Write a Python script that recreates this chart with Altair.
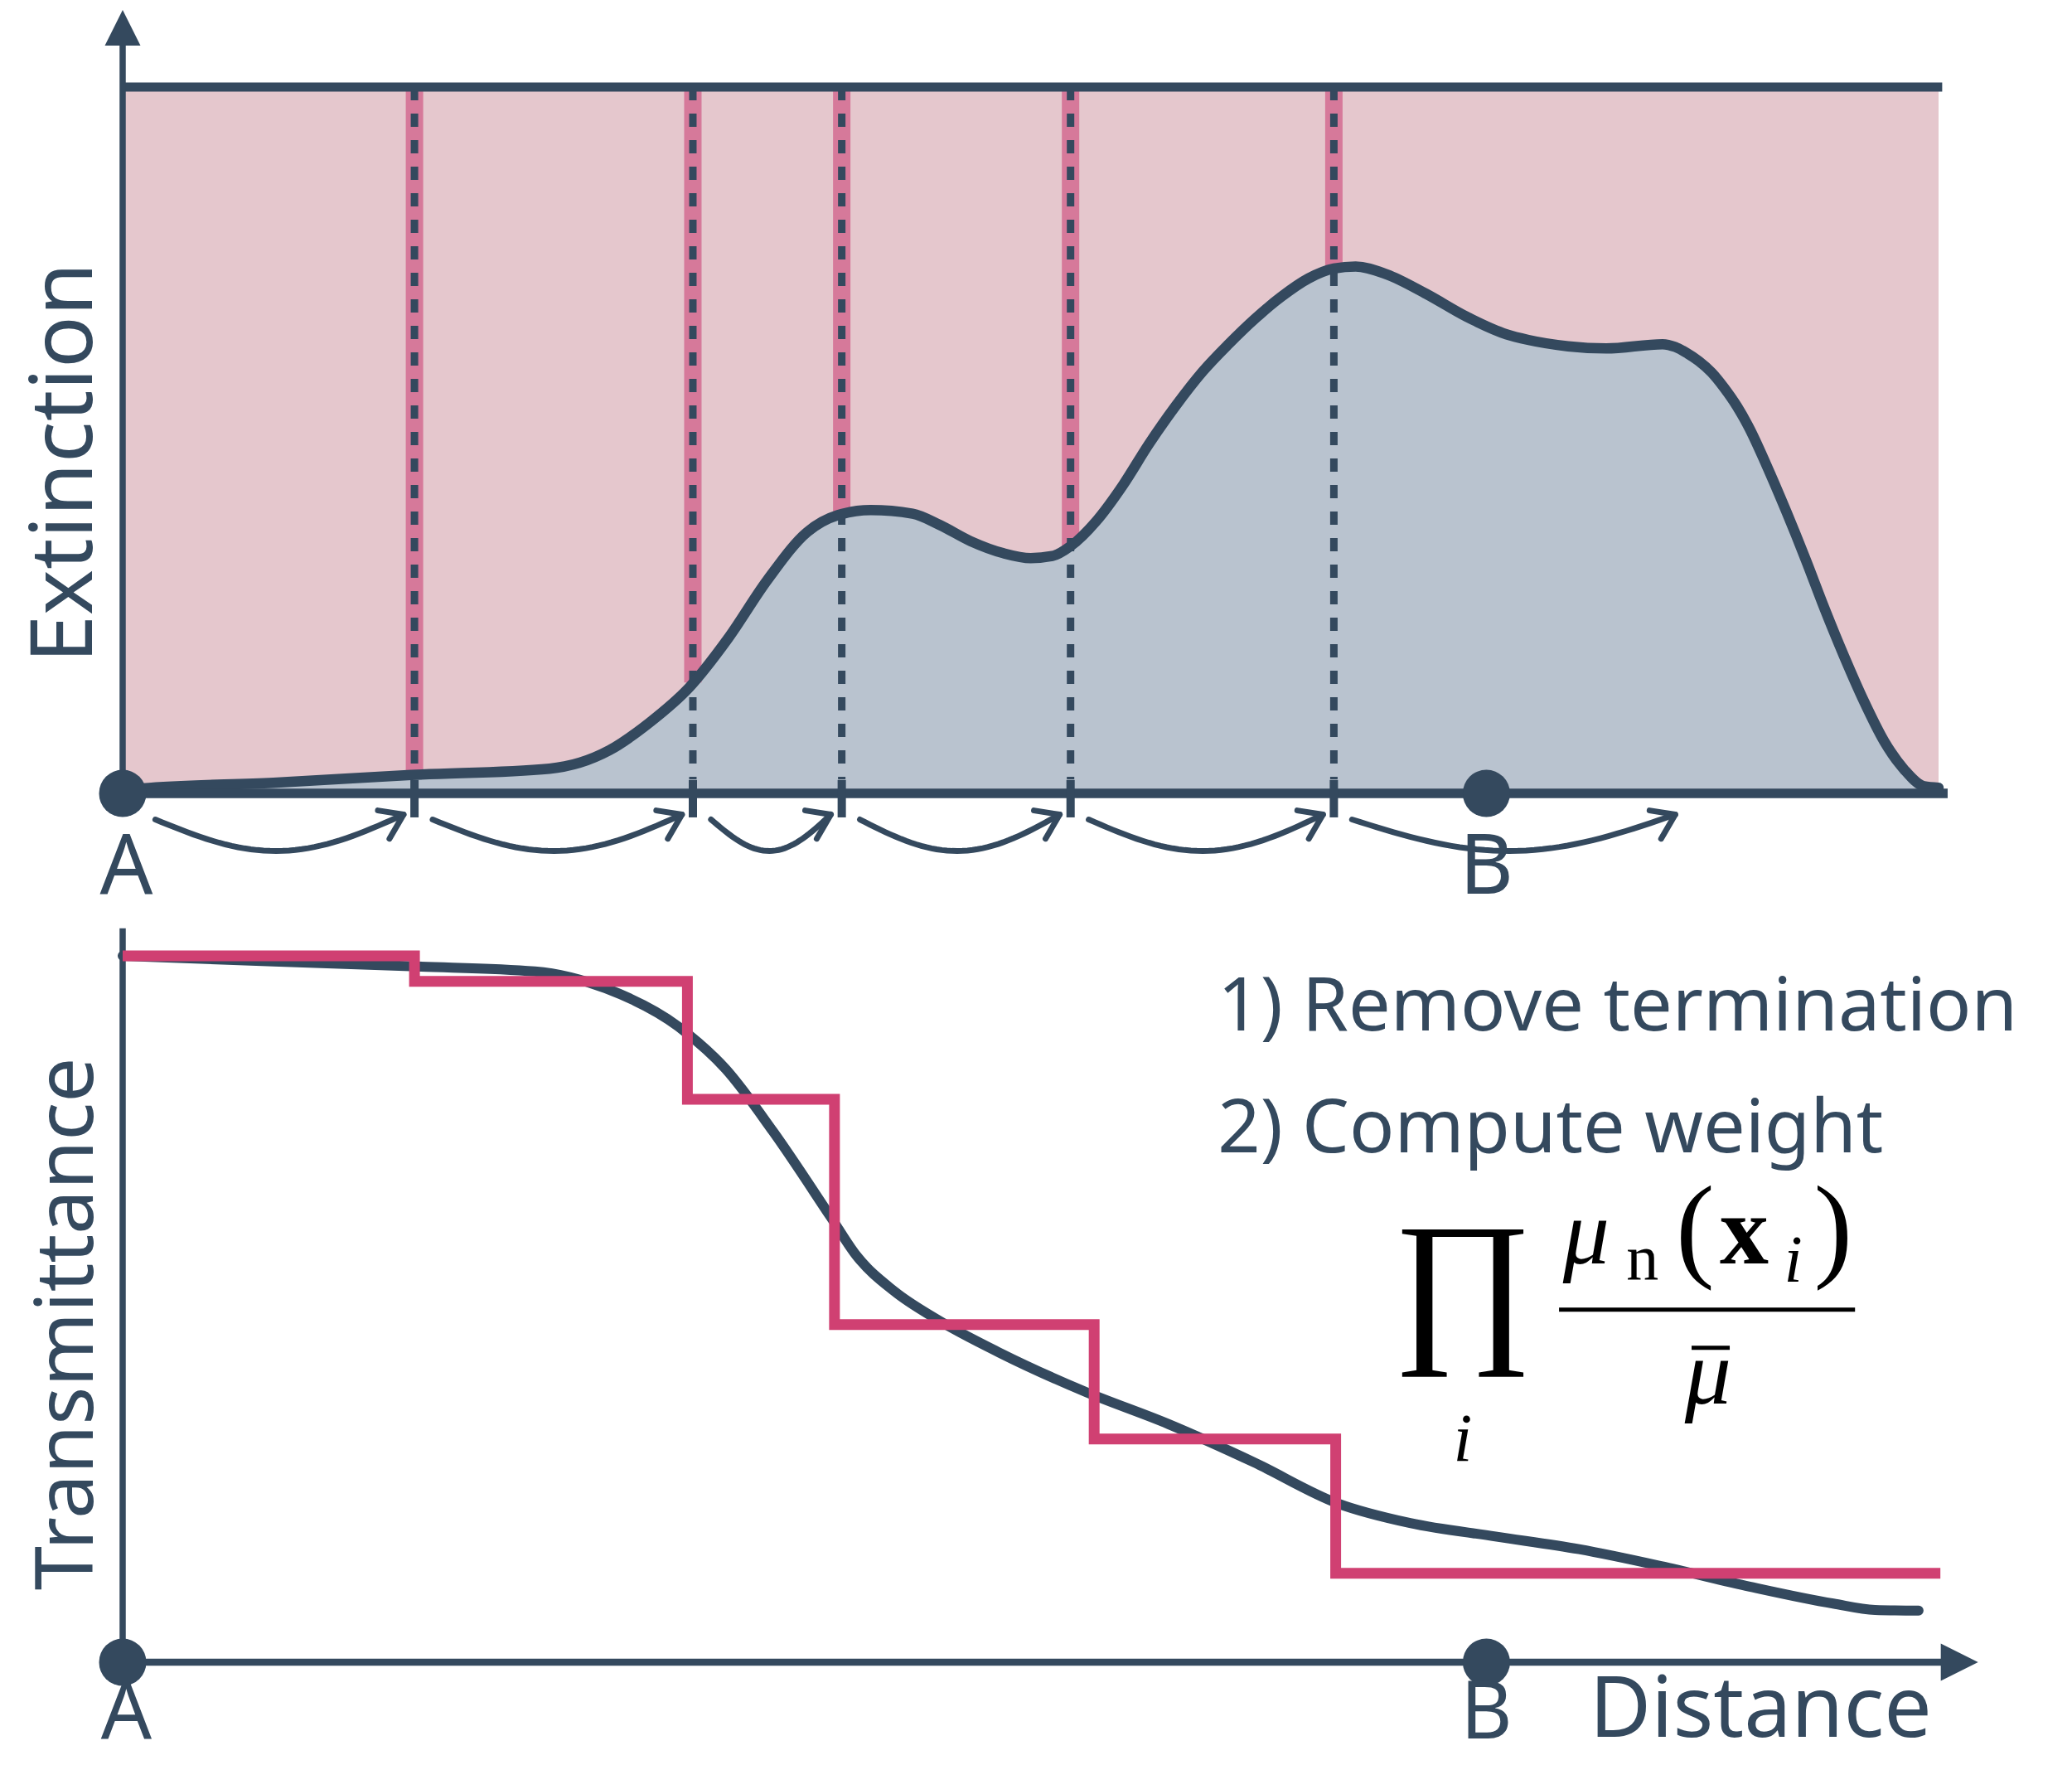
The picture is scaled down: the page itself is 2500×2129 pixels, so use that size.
import altair as alt
import numpy as np
import pandas as pd

# ---------------------------------------------------------------- palette
DARK = "#34495e"
MAJORANT_FILL = "#e5c7cd"
MEDIUM_FILL = "#b9c3cf"
SAMPLE_BAND = "#d6799a"
WEIGHT_RED = "#d04072"
TEXT_FONT = "Noto Sans"
MATH_FONT = "Liberation Serif"

# ---------------------------------------------------------------- data
# distance along the ray: A = 0, end of drawn segment = 100
POINT_A = 0.0
POINT_B = 75.1
RAY_END = 100.0
MAJORANT = 1.0

# extinction profile mu(x)
ext_dist = [0, 1.1, 8.3, 15.9, 23.5, 26.8, 29.0, 31.2, 33.3, 35.5, 37.7, 39.4,
            41.2, 43.5, 45.0, 46.7, 48.5, 50.0, 51.2, 52.2, 53.6, 55.1, 56.5,
            58.0, 59.5, 60.9, 62.4, 63.8, 65.3, 66.7, 67.9, 69.6, 71.8, 74.0,
            76.2, 77.4, 79.6, 81.7, 84.8, 85.5, 86.1, 86.8, 87.5, 88.2, 88.9,
            89.6, 90.5, 91.6, 92.7, 93.7, 94.8, 95.9, 97.0, 98.1, 99.2, 100.0]
ext_val = [0.004, 0.007, 0.015, 0.026, 0.035, 0.061, 0.100, 0.150, 0.218,
           0.302, 0.370, 0.394, 0.401, 0.396, 0.380, 0.357, 0.340, 0.333,
           0.336, 0.350, 0.385, 0.437, 0.494, 0.549, 0.598, 0.636, 0.673,
           0.703, 0.729, 0.743, 0.746, 0.735, 0.707, 0.675, 0.650, 0.642,
           0.633, 0.630, 0.636, 0.632, 0.624, 0.612, 0.596, 0.574, 0.548,
           0.516, 0.466, 0.400, 0.330, 0.263, 0.194, 0.130, 0.074, 0.034,
           0.010, 0.008]

# tentative collision distances (the last one lies past B)
sample_dist = [16.07, 31.4, 39.6, 52.2, 66.7, 86.1]
# extinction at the collisions that fall before B
sample_ext = [0.026, 0.157, 0.394, 0.350, 0.743]

# true transmittance T(x)
tr_dist = [0, 8.3, 16.2, 22.7, 26.6, 30.6, 33.2, 35.8, 39.0, 40.4, 42.5, 44.8,
           48.3, 52.9, 57.6, 62.3, 66.9, 70.9, 75.6, 80.2, 84.9, 89.6, 94.2,
           96.5, 98.9]
tr_val = [1.0, 0.992, 0.985, 0.978, 0.954, 0.900, 0.840, 0.752, 0.630, 0.576,
          0.525, 0.486, 0.438, 0.384, 0.337, 0.283, 0.225, 0.197, 0.178, 0.160,
          0.135, 0.107, 0.083, 0.074, 0.073]

# ratio-tracking weight, piecewise constant between collisions
weight_dist = [0.0, 16.07, 31.1, 39.2, 53.5, 66.8, 100.1]
weight_val = [1.0, 0.964, 0.797, 0.478, 0.316, 0.126, 0.126]

# ---------------------------------------------------------------- tables
ext_df = pd.DataFrame({"dist": ext_dist, "mu": ext_val})
tr_df = pd.DataFrame({"dist": tr_dist, "T": tr_val})
weight_df = pd.DataFrame({"dist": weight_dist, "w": weight_val})
band_df = pd.DataFrame({"dist": sample_dist[:len(sample_ext)], "mu": sample_ext})
ends_df = pd.DataFrame({"dist": [POINT_A, POINT_B]})

# free-flight hops drawn as sagging arcs under the axis
ARC_START, ARC_END, ARC_SAG = -0.037, -0.030, 0.048
stops = [POINT_A] + sample_dist
arc_rows, head_rows = [], []
for i in range(len(stops) - 1):
    a = stops[i] + (1.8 if i == 0 else 1.0)
    b = stops[i + 1] - 0.6
    for t in np.linspace(0.0, 1.0, 40):
        arc_rows.append({"hop": i, "dist": float(a + (b - a) * t),
                         "lvl": float(ARC_START + (ARC_END - ARC_START) * t
                                      - ARC_SAG * np.sin(np.pi * t))})
    head_rows.append({"dist": b, "lvl": ARC_END})
arc_df = pd.DataFrame(arc_rows)
head_df = pd.DataFrame(head_rows)

# ---------------------------------------------------------------- scales
X_SCALE = alt.Scale(domain=[0, 100], range=[148, 2339], nice=False, zero=False)
EXT_SCALE = alt.Scale(domain=[0, 1], range=[957, 105], nice=False, zero=False)
TR_SCALE = alt.Scale(domain=[0, 1], range=[2005, 1153], nice=False, zero=False)


def xf(field):
    return alt.X(field, type="quantitative", scale=X_SCALE, axis=None)


def yf(field, scale):
    return alt.Y(field, type="quantitative", scale=scale, axis=None)


def anchor(**values):
    """One-row source whose fields are the given constants."""
    base = alt.Chart(alt.Data(values=[{"k": 0}]))
    return base.transform_calculate(**{k: repr(float(v)) for k, v in values.items()})


def label(text, x, y, scale, size, font=TEXT_FONT, color=DARK, style="normal",
          weight="normal", align="center", baseline="alphabetic", angle=0):
    return anchor(px=x, py=y).mark_text(
        text=text, font=font, fontSize=size, fontStyle=style, fontWeight=weight,
        color=color, align=align, baseline=baseline, angle=angle
    ).encode(x=xf("px:Q"), y=yf("py:Q", scale))


def hrule(x0, x1, y, scale, width, color=DARK):
    return anchor(px=x0, px2=x1, py=y).mark_rule(
        color=color, strokeWidth=width
    ).encode(x=xf("px:Q"), x2="px2:Q", y=yf("py:Q", scale))


def vrule(x, y0, y1, scale, width, color=DARK):
    return anchor(px=x, py=y0, py2=y1).mark_rule(
        color=color, strokeWidth=width
    ).encode(x=xf("px:Q"), y=yf("py:Q", scale), y2="py2:Q")


def head(shape, x, y, scale, size):
    return anchor(px=x, py=y).mark_point(
        shape=shape, size=size, filled=True, color=DARK, opacity=1
    ).encode(x=xf("px:Q"), y=yf("py:Q", scale))


UP_HEAD = "M-1,1L0,-1L1,1Z"
RIGHT_HEAD = "M-1,-1L1,0L-1,1Z"
HOP_HEAD = "M-1,-0.16L0,0L-0.55,0.94"

# ---------------------------------------------------------------- extinction panel
majorant_bg = anchor(px=POINT_A, px2=RAY_END, py=0, py2=MAJORANT).mark_rect(
    color=MAJORANT_FILL
).encode(x=xf("px:Q"), x2="px2:Q", y=yf("py:Q", EXT_SCALE), y2="py2:Q")

ext_area = alt.Chart(ext_df).transform_calculate(floor="0").mark_area(
    color=MEDIUM_FILL, interpolate="monotone", opacity=1
).encode(x=xf("dist"), y=yf("mu", EXT_SCALE), y2="floor:Q")

bands = alt.Chart(band_df).transform_calculate(top=repr(MAJORANT)).mark_rule(
    color=SAMPLE_BAND, strokeWidth=21
).encode(x=xf("dist"), y=yf("top:Q", EXT_SCALE), y2="mu:Q")

dashes = alt.Chart(band_df).transform_calculate(
    top=repr(MAJORANT), foot="0.02"
).mark_rule(color=DARK, strokeWidth=9, strokeDash=[16, 16]).encode(
    x=xf("dist"), y=yf("top:Q", EXT_SCALE), y2="foot:Q")

ext_line = alt.Chart(ext_df).mark_line(
    color=DARK, strokeWidth=12.5, interpolate="monotone", strokeCap="round"
).encode(x=xf("dist"), y=yf("mu", EXT_SCALE))

top_border = hrule(POINT_A, 100.2, MAJORANT, EXT_SCALE, 11)
ext_base = hrule(POINT_A, 100.5, 0, EXT_SCALE, 11.5)
ext_left = vrule(POINT_A, 0, 1.06, EXT_SCALE, 7.5)
ext_arrow = head(UP_HEAD, POINT_A, 1.084, EXT_SCALE, 1850)

ticks = alt.Chart(band_df).transform_calculate(
    up="0.019", down="-0.034"
).mark_rule(color=DARK, strokeWidth=10).encode(
    x=xf("dist"), y=yf("up:Q", EXT_SCALE), y2="down:Q")

ext_ends = alt.Chart(ends_df).transform_calculate(level="0").mark_circle(
    size=3250, color=DARK, opacity=1
).encode(x=xf("dist"), y=yf("level:Q", EXT_SCALE))

hops = alt.Chart(arc_df).mark_line(
    color=DARK, strokeWidth=7, strokeCap="round"
).encode(x=xf("dist"), y=yf("lvl", EXT_SCALE), detail="hop:N")

hop_heads = alt.Chart(head_df).mark_point(
    shape=HOP_HEAD, size=3844, filled=False, color=DARK, strokeWidth=7,
    opacity=1, strokeJoin="round", strokeCap="round"
).encode(x=xf("dist"), y=yf("lvl", EXT_SCALE))

ext_labels = [
    label("A", POINT_A + 0.2, -0.142, EXT_SCALE, 100),
    label("B", POINT_B, -0.142, EXT_SCALE, 100),
    label("Extinction", -3.1, 0.468, EXT_SCALE, 104, angle=270,
          baseline="middle"),
]

# ---------------------------------------------------------------- transmittance panel
tr_left = vrule(POINT_A, 0, 1.039, TR_SCALE, 7.5)
tr_base = hrule(POINT_A, 100.3, 0, TR_SCALE, 8.5)
tr_arrow = head(RIGHT_HEAD, 101.15, 0, TR_SCALE, 2025)

tr_line = alt.Chart(tr_df).mark_line(
    color=DARK, strokeWidth=12, interpolate="monotone", strokeCap="round"
).encode(x=xf("dist"), y=yf("T", TR_SCALE))

weight_line = alt.Chart(weight_df).mark_line(
    color=WEIGHT_RED, strokeWidth=13, interpolate="step-after",
    strokeJoin="miter"
).encode(x=xf("dist"), y=yf("w", TR_SCALE))

tr_ends = alt.Chart(ends_df).transform_calculate(level="0").mark_circle(
    size=3250, color=DARK, opacity=1
).encode(x=xf("dist"), y=yf("level:Q", TR_SCALE))

tr_labels = [
    label("A", POINT_A + 0.2, -0.108, TR_SCALE, 96),
    label("B", POINT_B, -0.108, TR_SCALE, 96),
    label("Distance", 90.2, -0.106, TR_SCALE, 102),
    label("Transmittance", -2.97, 0.479, TR_SCALE, 96, angle=270,
          baseline="middle"),
    label("1) Remove termination", 60.3, 0.894, TR_SCALE, 90, align="left"),
    label("2) Compute weight", 60.3, 0.722, TR_SCALE, 90, align="left"),
]

# weight formula: prod_i mu_n(x_i) / mu_bar
formula = [
    label("\u220f", 73.8, 0.528, TR_SCALE, 205, font=MATH_FONT, color="black",
          baseline="middle"),
    label("i", 73.8, 0.285, TR_SCALE, 82, font=MATH_FONT, color="black",
          style="italic"),
    label("\u03bc", 80.6, 0.565, TR_SCALE, 112, font=MATH_FONT, color="black",
          style="italic"),
    label("n", 83.7, 0.541, TR_SCALE, 78, font=MATH_FONT, color="black"),
    label("(", 86.6, 0.561, TR_SCALE, 140, font=MATH_FONT, color="black"),
    label("x", 89.3, 0.565, TR_SCALE, 118, font=MATH_FONT, color="black",
          weight="bold"),
    label("i", 92.0, 0.539, TR_SCALE, 80, font=MATH_FONT, color="black",
          style="italic"),
    label(")", 94.2, 0.561, TR_SCALE, 140, font=MATH_FONT, color="black"),
    hrule(79.1, 95.4, 0.499, TR_SCALE, 5, color="black"),
    label("\u03bc", 87.3, 0.366, TR_SCALE, 112, font=MATH_FONT, color="black",
          style="italic"),
    hrule(86.4, 88.5, 0.445, TR_SCALE, 5, color="black"),
]

layers = [
    majorant_bg, ext_area, bands, dashes, ext_line,
    top_border, ext_base, ext_left, ext_arrow, ticks, ext_ends,
    hops, hop_heads, *ext_labels,
    tr_left, tr_base, tr_arrow, tr_line, weight_line, tr_ends,
    *tr_labels, *formula,
]

chart = alt.layer(*layers).resolve_scale(y="independent").properties(
    width=2500, height=2129,
    autosize=alt.AutoSizeParams(type="none"),
    padding=0,
    background="white",
).configure_view(strokeWidth=0)

chart.save("out.html", embed_options={"renderer": "svg", "actions": False})
